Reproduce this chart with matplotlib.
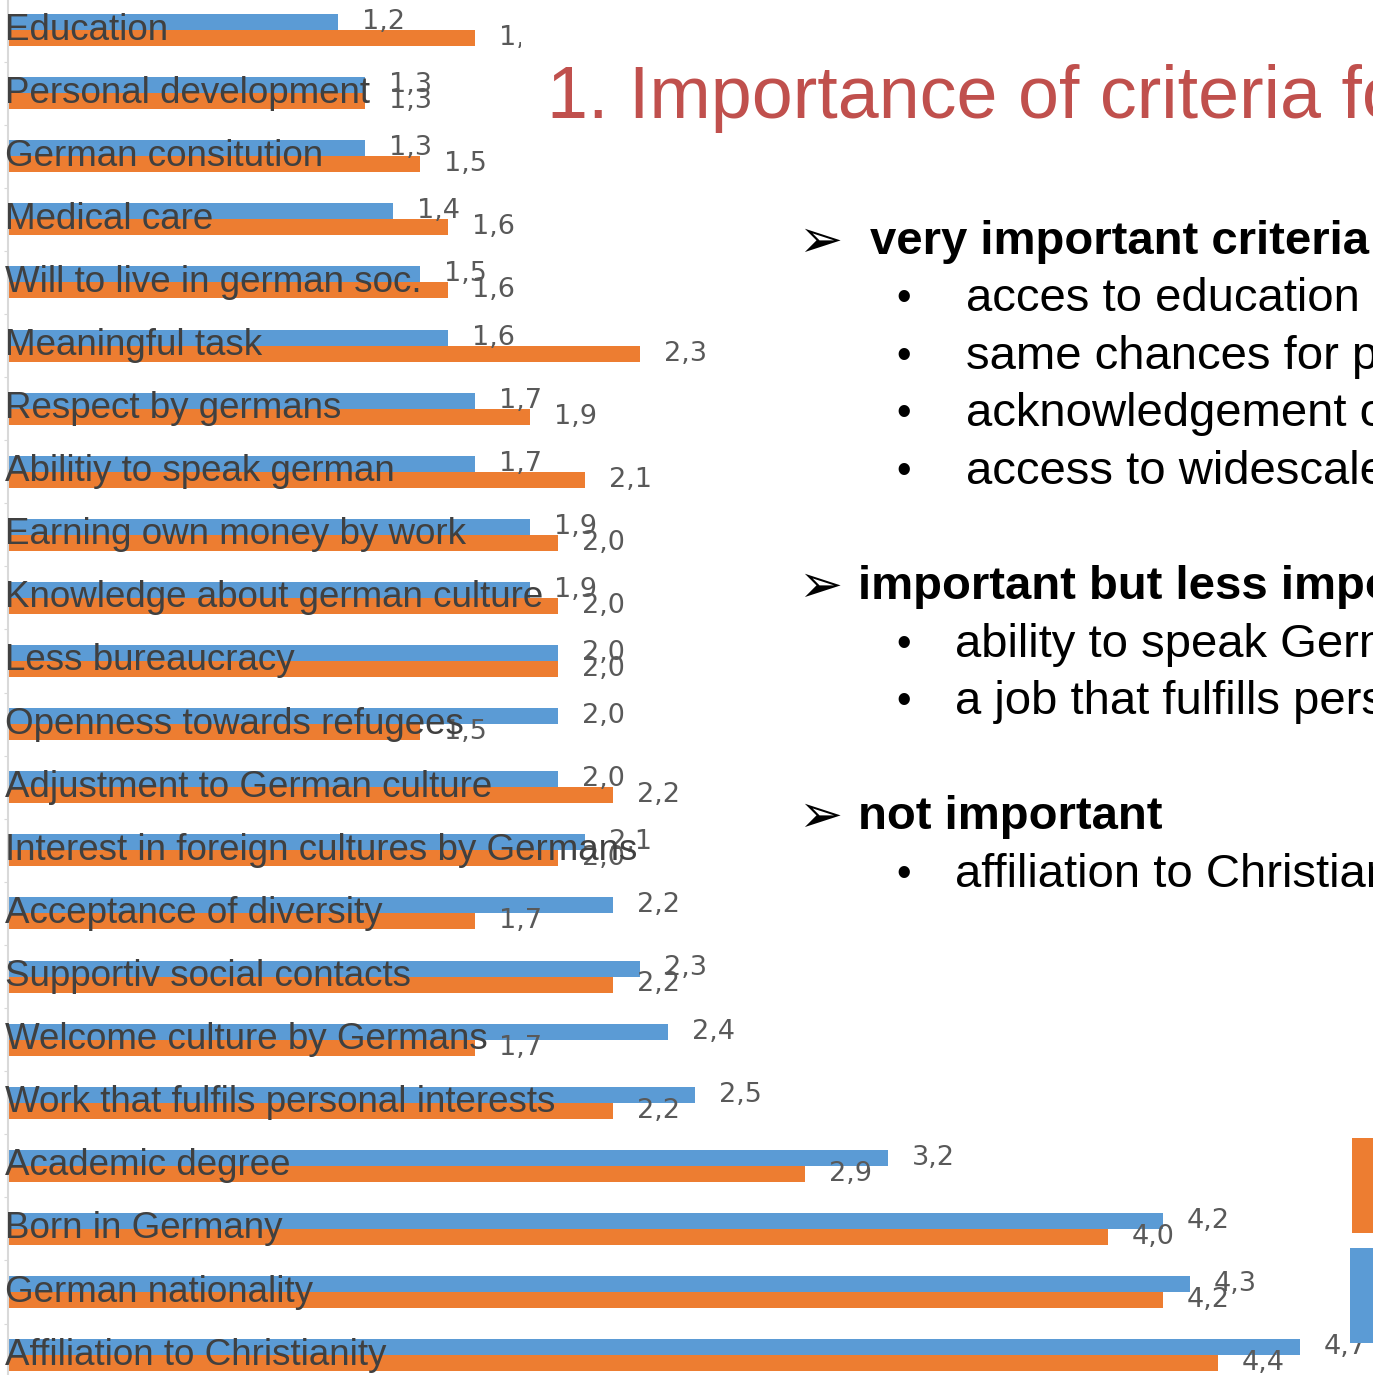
import matplotlib.pyplot as plt
import numpy as np
from matplotlib.patches import Rectangle
from matplotlib.transforms import blended_transform_factory

plt.rcParams['font.family'] = ['Liberation Sans', 'DejaVu Sans']

# criteria, top to bottom
criteria = [
    "Education", "Personal development", "German consitution", "Medical care",
    "Will to live in german soc.", "Meaningful task", "Respect by germans",
    "Abilitiy to speak german", "Earning own money by work",
    "Knowledge about german culture", "Less bureaucracy",
    "Openness towards refugees", "Adjustment to German culture",
    "Interest in foreign cultures by Germans", "Acceptance of diversity",
    "Supportiv social contacts", "Welcome culture by Germans",
    "Work that fulfils personal interests", "Academic degree",
    "Born in Germany", "German nationality", "Affiliation to Christianity",
]
blue_vals = [1.2, 1.3, 1.3, 1.4, 1.5, 1.6, 1.7, 1.7, 1.9, 1.9, 2.0,
             2.0, 2.0, 2.1, 2.2, 2.3, 2.4, 2.5, 3.2, 4.2, 4.3, 4.7]
orange_vals = [1.7, 1.3, 1.5, 1.6, 1.6, 2.3, 1.9, 2.1, 2.0, 2.0, 2.0,
               1.5, 2.2, 2.0, 1.7, 2.2, 1.7, 2.2, 2.9, 4.0, 4.2, 4.4]

BLUE = "#5B9BD5"
ORANGE = "#ED7D31"
W, H = 1373, 1375
step = 63.1      # px per category
px_per_unit = 275

fig = plt.figure(figsize=(W / 100, H / 100), dpi=100)
ax = fig.add_axes([8 / W, 0, 1 - 8 / W, 1])

y = np.arange(len(criteria))
h = 16 / step
ax.barh(y - h / 2, blue_vals, height=h, color=BLUE, zorder=2)
ax.barh(y + h / 2, orange_vals, height=h, color=ORANGE, zorder=2)

ax.set_xlim(0, (W - 8) / px_per_unit)
ax.set_ylim((H - 30) / step, -30 / step)

# value labels
for yi, b, o in zip(y, blue_vals, orange_vals):
    for v, yy in ((b, yi - h / 2), (o, yi + h / 2)):
        ax.annotate(f"{v:.1f}".replace(".", ","), xy=(v, yy), xytext=(17, 0),
                    textcoords="offset points", va="center", ha="left",
                    fontsize=19.5, family="DejaVu Sans", color="#595959",
                    zorder=3)

# category names over the bars
tr = blended_transform_factory(ax.transAxes, ax.transData)
for yi, name in zip(y, criteria):
    ax.text(-0.002, yi, name, transform=tr, ha="left", va="center",
            fontsize=26.5, color="#404040", zorder=4, clip_on=False)

ax.set_xticks([])
ax.set_yticks(y[:-1] + 0.5)
ax.set_yticklabels([])
ax.tick_params(axis="y", length=3, color="#D9D9D9")
for s in ["top", "right", "bottom"]:
    ax.spines[s].set_visible(False)
ax.spines["left"].set_color("#D9D9D9")
ax.spines["left"].set_linewidth(1.5)

# title box (white) covering the chart corner
fig.add_artist(Rectangle((521 / W, 1 - 150 / H), 1, 150 / H,
                         transform=fig.transFigure, facecolor="white",
                         edgecolor="none", zorder=5))
fig.text(547 / W, 1 - 118 / H, "1. Importance of criteria for integration",
         fontsize=53, color="#C0504D", va="baseline", ha="left", zorder=6)

# bullet text on the right
def arrow(ypx, xtext, txt):
    fig.text(798 / W, 1 - ypx / H, "\u27a2", fontsize=38, family="DejaVu Sans",
             va="center", ha="left", zorder=6)
    fig.text(xtext / W, 1 - ypx / H, txt, fontsize=34, fontweight="bold",
             va="center", ha="left", zorder=6)

def bullet(ypx, xtext, txt):
    fig.text(896 / W, 1 - ypx / H, "\u2022", fontsize=30, va="center",
             ha="left", zorder=6)
    fig.text(xtext / W, 1 - ypx / H, txt, fontsize=34, va="center",
             ha="left", zorder=6)

arrow(242, 870, "very important criteria")
bullet(299, 966, "acces to education")
bullet(357, 966, "same chances for participation")
bullet(414, 966, "acknowledgement of qualifications")
bullet(472, 966, "access to widescale information")
arrow(587, 858, "important but less important")
bullet(645, 955, "ability to speak German")
bullet(702, 955, "a job that fulfills personal interests")
arrow(817, 858, "not important")
bullet(875, 955, "affiliation to Christianity")

# legend keys (cut off at the right edge)
fig.add_artist(Rectangle((1352 / W, 1 - 1233 / H), 40 / W, 95 / H,
                         transform=fig.transFigure, facecolor=ORANGE,
                         edgecolor="none", zorder=6))
fig.add_artist(Rectangle((1350 / W, 1 - 1343 / H), 40 / W, 95 / H,
                         transform=fig.transFigure, facecolor=BLUE,
                         edgecolor="none", zorder=6))

fig.savefig("out.png", dpi=100)
